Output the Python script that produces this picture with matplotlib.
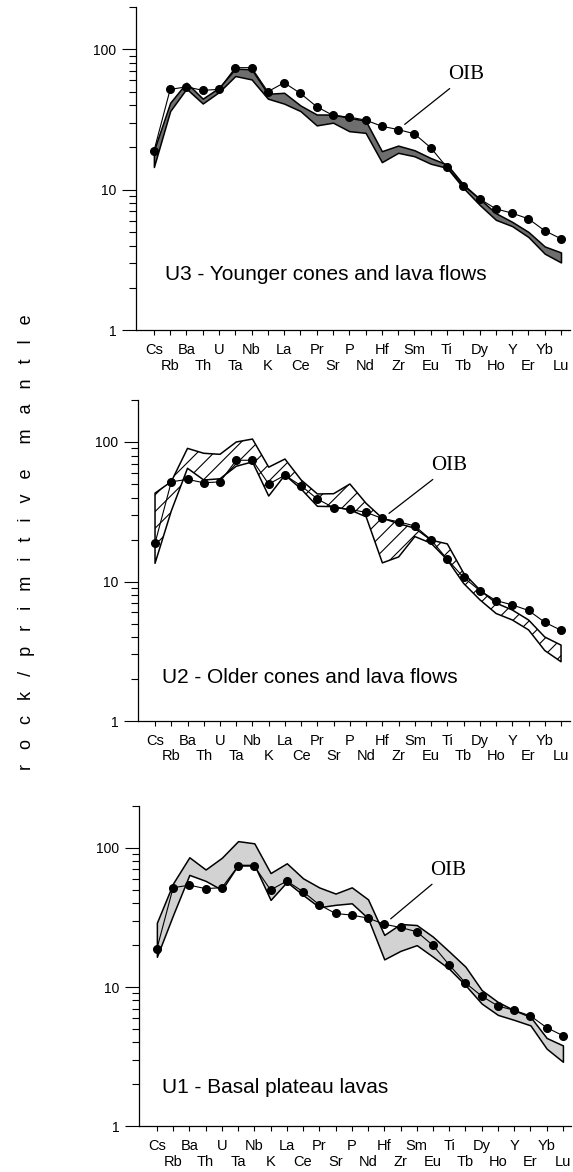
import numpy as np
import matplotlib.pyplot as plt
from matplotlib.ticker import LogLocator, NullFormatter

elements = ['Cs', 'Rb', 'Ba', 'Th', 'U', 'Ta', 'Nb', 'K', 'La', 'Ce', 'Pr', 'Sr', 'P',
            'Nd', 'Hf', 'Zr', 'Sm', 'Eu', 'Ti', 'Tb', 'Dy', 'Ho', 'Y', 'Er', 'Yb', 'Lu']

# OIB reference pattern (same in every panel)
oib = [18.8, 51.8, 54, 51, 51.8, 74, 74, 49.9, 57.8, 48.5, 39, 33.8, 32.9,
       31.3, 28.3, 26.8, 25, 19.9, 14.4, 10.7, 8.6, 7.3, 6.8, 6.2, 5.1, 4.47]

# U3 - younger cones (dark band)
u3_upper = [19, 41.6, 57.8, 44.5, 53.2, 72.8, 72, 48.2, 49, 39.8, 34.3, 34.3, 32.5,
            31, 18.8, 20.6, 19.1, 16.8, 15.1, 10.9, 8.6, 6.8, 5.9, 5.0, 3.94, 3.57]
u3_lower = [14.5, 36.3, 52.4, 41.1, 49.6, 64.5, 61, 44.5, 41, 36.3, 28.7, 30, 26.1,
            25.4, 15.7, 18.3, 17.3, 15.3, 14.3, 10.3, 7.8, 6.1, 5.5, 4.6, 3.5, 3.03]

# U2 - older cones (hatched band)
u2_upper = [43, 52, 90, 83, 81.6, 100, 105, 66, 75.5, 53.4, 42.4, 42.6, 50,
            36.3, 28.4, 26, 24.1, 19.8, 18.6, 11.5, 8.7, 7.0, 6.25, 5.3, 4.0, 3.5]
u2_lower = [13.5, 32, 64.8, 53.4, 54.5, 67, 72, 41, 58, 46, 34.6, 34.4, 32.6,
            29.1, 13.6, 15, 21, 18.8, 14.3, 9.7, 7.4, 5.9, 5.3, 4.5, 3.2, 2.66]

# U1 - basal plateau lavas (light band)
u1_upper = [29, 55.7, 85.7, 70, 85, 112, 108, 66, 77.6, 60.5, 52, 47, 52.1,
            42.7, 23.7, 28.4, 27.9, 23, 18, 14, 9.5, 7.8, 6.8, 6.1, 4.3, 3.8]
u1_lower = [16.5, 33, 64, 58, 50, 75.5, 75.5, 42.3, 57, 45.9, 37.5, 39, 40,
            31.2, 15.8, 18.2, 20, 16.5, 13.5, 10.3, 7.6, 6.3, 5.8, 5.3, 3.6, 2.9]

titles = ['U3 - Younger cones and lava flows',
          'U2 - Older cones and lava flows',
          'U1 - Basal plateau lavas']

plt.rcParams['font.family'] = 'Liberation Sans'
plt.rcParams['hatch.linewidth'] = 0.8

fig = plt.figure(figsize=(5.73, 11.72), dpi=100)
x = np.arange(len(elements))

# panel boxes, xlim, title position, OIB pointer (element index, text offset px)
panels = [
    dict(box=[0.2373, 0.7184, 0.7574, 0.2756], xlim=(-1.1, 25.55),
         upper=u3_upper, lower=u3_lower, face='#6e6e6e', hatch=None,
         tpos=(0.067, 0.173), oib_i=15, off=(68, 55)),
    dict(box=[0.2408, 0.3848, 0.7539, 0.2739], xlim=(-1.05, 25.55),
         upper=u2_upper, lower=u2_lower, face='white', hatch='//',
         tpos=(0.056, 0.137), oib_i=14, off=(67, 53)),
    dict(box=[0.2426, 0.0392, 0.7540, 0.2730], xlim=(-1.1, 25.5),
         upper=u1_upper, lower=u1_lower, face='#d2d2d2', hatch=None,
         tpos=(0.053, 0.119), oib_i=14, off=(64, 54)),
]

for p, title in zip(panels, titles):
    ax = fig.add_axes(p['box'])
    ax.fill_between(x, p['lower'], p['upper'], facecolor=p['face'], edgecolor='black',
                    hatch=p['hatch'], lw=1.1, zorder=2)
    ax.plot(x, oib, color='black', lw=0.8, marker='o', ms=5.5, zorder=3)

    ax.set_yscale('log')
    ax.set_ylim(1, 200)
    ax.set_xlim(*p['xlim'])
    ax.set_yticks([1, 10, 100])
    ax.set_yticklabels(['1', '10', '100'])
    ax.yaxis.set_minor_locator(LogLocator(base=10, subs=np.arange(2, 10)))
    ax.yaxis.set_minor_formatter(NullFormatter())
    ax.tick_params(axis='y', which='major', direction='out', length=10, width=0.8,
                   labelsize=10, pad=4)
    ax.tick_params(axis='y', which='minor', direction='out', length=5, width=0.8)

    # element names alternate between two rows
    ax.set_xticks(x)
    ax.set_xticklabels(elements)
    ax.tick_params(axis='x', direction='out', length=3.5, width=0.8, labelsize=10.5, pad=5.5)
    for tick in ax.xaxis.get_major_ticks()[1::2]:
        tick.set_pad(17)

    for side in ['top', 'right']:
        ax.spines[side].set_visible(False)
    for side in ['left', 'bottom']:
        ax.spines[side].set_linewidth(0.9)

    ax.text(p['tpos'][0], p['tpos'][1], title, transform=ax.transAxes,
            ha='left', va='center', fontsize=15)

    i = p['oib_i']
    ax.annotate('OIB', xy=(x[i], oib[i]), xytext=p['off'], textcoords='offset pixels',
                ha='center', va='center', fontsize=15, family='Liberation Serif',
                arrowprops=dict(arrowstyle='-', lw=0.9, color='black',
                                shrinkA=2, shrinkB=6, relpos=(0.2, 0)))

fig.text(0.047, 0.537,
         'r   o   c   k   /   p   r   i   m   i   t   i   v   e     m   a   n   t   l   e',
         rotation=90, ha='center', va='center', fontsize=13)

fig.savefig('out.png', dpi=100)
